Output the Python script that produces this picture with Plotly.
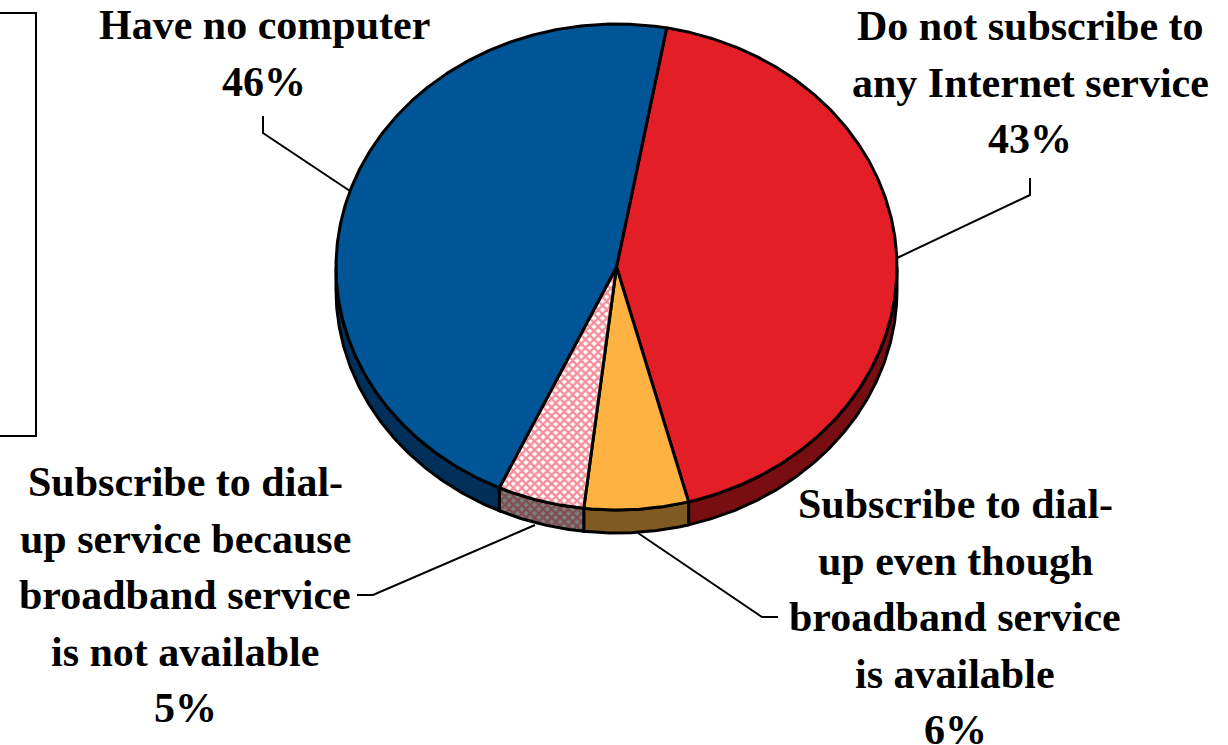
import numpy as np
import plotly.graph_objects as go

categories = ["Do not subscribe to any Internet service",
              "Subscribe to dial-up even though broadband service is available",
              "Subscribe to dial-up service because broadband service is not available",
              "Have no computer"]
values = [43, 6, 5, 46]
top_colors = ["#E41E26", "#FDB241", "#FFFFFF", "#005596"]
side_colors = ["#780D12", "#7F5A22", "#808080", "#00305A"]
label_lines = [
    (["Have no computer", "46%"], 264, 25),
    (["Do not subscribe to", "any Internet service", "43%"], 1030, 26),
    (["Subscribe to dial-", "up service because", "broadband service", "is not available", "5%"], 185, 482),
    (["Subscribe to dial-", "up even though", "broadband service", "is available", "6%"], 955, 504),
]
leaders = [
    ([263, 263, 350], [116, 133, 191]),
    ([1030, 1030, 897], [178, 195, 258]),
    ([357, 373, 535], [595, 595, 525]),
    ([638, 762, 778], [533, 617, 617]),
]
frame_x = [0, 36, 36, 0]
frame_y = [13, 13, 436, 436]

CX, CY, RX, RY, DEPTH = 616.5, 267, 280.5, 243, 23
START = 10.3
EDGE = "#000000"
LW = 3


def arc(a0, a1):
    t = np.radians(np.linspace(a0, a1, max(int(abs(a1 - a0) * 2), 2)))
    return CX + RX * np.sin(t), CY - RY * np.cos(t)


fig = go.Figure()
angle = START
spans = []
for v in values:
    spans.append((angle, angle + v * 3.6))
    angle += v * 3.6

# side walls
for (a0, a1), col, name in zip(spans, side_colors, categories):
    lo, hi = max(a0, 90), min(a1, 270)
    if hi <= lo:
        continue
    x, y = arc(lo, hi)
    px = np.r_[x, x[::-1], x[0]]
    py = np.r_[y, y[::-1] + DEPTH, y[0]]
    kw = {}
    if "not available" in name:
        kw["fillpattern"] = dict(shape="x", fgcolor="#7E1820", bgcolor="#808080", size=6, solidity=0.6)
    fig.add_trace(go.Scatter(x=px, y=py, mode="lines", fill="toself", fillcolor=col,
                             line=dict(color=EDGE, width=LW), hoverinfo="skip", **kw))

# top faces
for (a0, a1), col, name in zip(spans, top_colors, categories):
    x, y = arc(a0, a1)
    px = np.r_[CX, x, CX]
    py = np.r_[CY, y, CY]
    kw = {}
    if "not available" in name:
        kw["fillpattern"] = dict(shape="x", fgcolor="#E8203A", bgcolor="#FFFFFF", size=6, solidity=0.65)
    fig.add_trace(go.Scatter(x=px, y=py, mode="lines", fill="toself", fillcolor=col,
                             line=dict(color=EDGE, width=LW), hoverinfo="skip", name=name, **kw))

for lx, ly in leaders:
    fig.add_trace(go.Scatter(x=lx, y=ly, mode="lines", line=dict(color=EDGE, width=2), hoverinfo="skip"))
fig.add_trace(go.Scatter(x=frame_x, y=frame_y, mode="lines", line=dict(color=EDGE, width=2), hoverinfo="skip"))

for lines, x, y in label_lines:
    for i, txt in enumerate(lines):
        fig.add_annotation(x=x, y=y + i * 56.5, text=f"<b>{txt}</b>", showarrow=False,
                           xanchor="center", yanchor="middle",
                           font=dict(family="Liberation Serif", size=42, color="#000000"))

fig.update_layout(width=1228, height=745, margin=dict(l=0, r=0, t=0, b=0), showlegend=False,
                  paper_bgcolor="white", plot_bgcolor="white",
                  xaxis=dict(range=[0, 1228], visible=False, fixedrange=True),
                  yaxis=dict(range=[745, 0], visible=False, fixedrange=True))
fig.write_html("out.html", config={"displayModeBar": False},
               post_script="document.body.style.margin='0';")
